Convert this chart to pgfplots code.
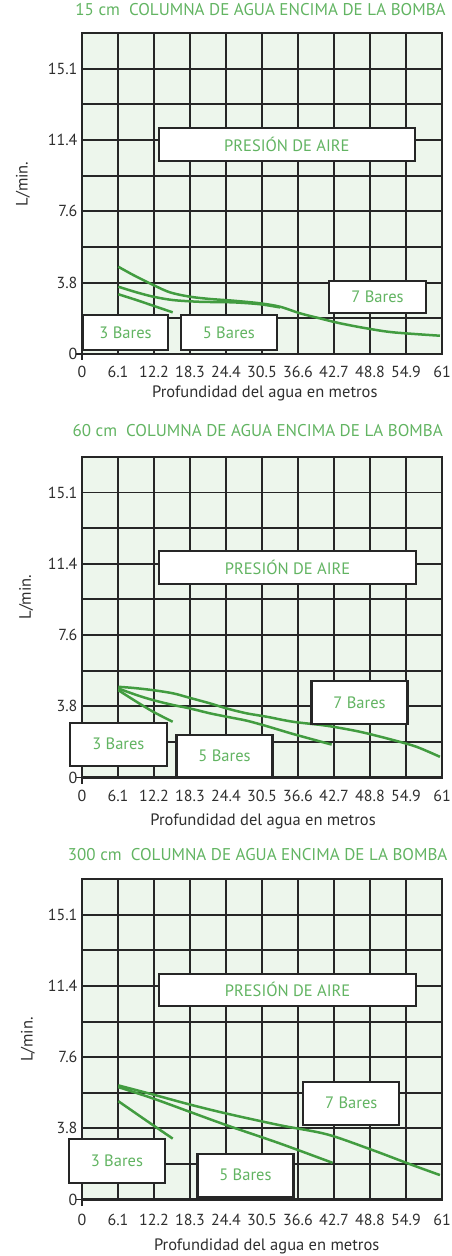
\documentclass[border=0pt]{standalone}
\usepackage{fontspec}
\setmainfont{PT Sans}
\usepackage{pgfplots}
\pgfplotsset{compat=1.18}
\definecolor{bg}{HTML}{EDF6EC}
\definecolor{gridc}{HTML}{262626}
\definecolor{lgreen}{HTML}{429C40}
\definecolor{tgreen}{HTML}{62B462}
\definecolor{tickc}{HTML}{2E2E2E}
\tikzset{
 lb/.style={draw=gridc, line width=2.2pt, fill=white, text=tgreen, inner sep=0pt,
   font=\fontsize{16.5}{19}\selectfont},
 cv/.style={draw=lgreen, line width=2.5pt, smooth, no marks},
}
\pgfplotsset{
 bomba/.style={
  scale only axis, width=360pt,
  xmin=0,xmax=60.96,ymin=0,ymax=17.03,
  axis background/.style={fill=bg},
  xtick={0,6.096,12.192,18.288,24.384,30.48,36.576,42.672,48.768,54.864,60.96},
  xticklabels={0,6.1,12.2,18.3,24.4,30.5,36.6,42.7,48.8,54.9,61},
  ytick={0,3.785,7.571,11.356,15.142},
  yticklabels={0,3.8,7.6,11.4,15.1},
  minor ytick={1.893,5.678,9.464,13.249},
  grid=both,
  major grid style={draw=gridc,line width=1.9pt},
  minor grid style={draw=gridc,line width=1.9pt},
  axis line style={draw=gridc,line width=2.2pt},
  tick style={draw=none},
  ticklabel style={font=\fontsize{16}{19}\selectfont, text=tickc},
  yticklabel style={xshift=-1pt},
  xlabel=Profundidad del agua en metros,
  ylabel=L/min.,
  label style={font=\fontsize{16.5}{19}\selectfont, text=tickc},
  title style={font=\fontsize{17}{20}\selectfont, text=tgreen, anchor=center},
  clip=false,
 },
 origindash/.style={},
}
\newcommand{\origin}{%
  \draw[gridc, line width=1.6pt] (rel axis cs:0,0) -- ++(-6pt,0pt);
  \draw[gridc, line width=1.6pt] (rel axis cs:0,0) -- ++(0pt,-6pt);}
\begin{document}
\begin{tikzpicture}
\useasboundingbox (0pt,0pt) rectangle (452pt,-1256pt);
% ---------- Chart 1 ----------
\begin{axis}[bomba, at={(82pt,-354pt)}, anchor=south west, height=321pt,
  title={15 cm\ \ COLUMNA DE AGUA ENCIMA DE LA BOMBA},
  title style={at={(axis description cs:0.496,1.053)}},
  xlabel style={at={(axis description cs:0.508,-0.1215)}, anchor=center},
  ylabel style={at={(axis description cs:-0.164,0.53)}, anchor=center},
  xticklabel style={anchor=center, yshift=-17.7pt}]
\addplot[cv] coordinates {(6.15,4.63) (8.69,4.19) (12.07,3.66) (14.90,3.27) (18.28,3.04) (21.67,2.92) (25.56,2.83) (30.14,2.69) (33.52,2.51) (36.91,2.16) (40.29,1.89) (43.68,1.63) (48.20,1.36) (52.70,1.15) (60.61,0.97)};
\addplot[cv] coordinates {(6.15,3.57) (9.26,3.27) (12.07,3.04) (15.46,2.86) (19.98,2.77) (25.56,2.74) (30.14,2.64) (33.52,2.47)};
\addplot[cv] coordinates {(6.15,3.17) (9.26,2.86) (12.07,2.56) (15.36,2.21)};
\origin
\node[lb, minimum width=256pt, minimum height=33pt] at (rel axis cs:0.569,0.653) {PRESIÓN DE AIRE};
\node[lb, minimum width=85pt, minimum height=35pt] at (rel axis cs:0.121,0.067) {3 Bares};
\node[lb, minimum width=96pt, minimum height=35pt] at (rel axis cs:0.408,0.067) {5 Bares};
\node[lb, minimum width=97pt, minimum height=32pt] at (rel axis cs:0.821,0.178) {7 Bares};
\end{axis}
% ---------- Chart 2 ----------
\begin{axis}[bomba, at={(82pt,-777.5pt)}, anchor=south west, height=320.5pt,
  title={60 cm\ \ COLUMNA DE AGUA ENCIMA DE LA BOMBA},
  title style={at={(axis description cs:0.488,1.065)}},
  xlabel style={at={(axis description cs:0.503,-0.136)}, anchor=center},
  ylabel style={at={(axis description cs:-0.155,0.563)}, anchor=center},
  xticklabel style={anchor=center, yshift=-18.5pt}]
\addplot[cv] coordinates {(6.15,4.82) (8.69,4.76) (12.07,4.64) (15.46,4.47) (18.28,4.23) (21.67,3.94) (24.50,3.67) (27.88,3.41) (31.27,3.23) (35.77,2.96) (41.43,2.75) (47.07,2.43) (52.70,1.99) (56.66,1.63) (60.61,1.10)};
\addplot[cv] coordinates {(6.15,4.73) (9.26,4.38) (12.07,4.11) (15.46,3.85) (18.28,3.67) (21.67,3.41) (24.50,3.23) (27.88,3.02) (31.27,2.73) (35.77,2.31) (42.27,1.75)};
\addplot[cv] coordinates {(6.15,4.64) (9.26,4.02) (12.07,3.49) (15.36,2.96)};
\origin
\node[lb, minimum width=257pt, minimum height=33pt] at (rel axis cs:0.571,0.655) {PRESIÓN DE AIRE};
\node[lb, minimum width=97pt, minimum height=43pt] at (rel axis cs:0.101,0.104) {3 Bares};
\node[lb, minimum width=96pt, minimum height=42pt] at (rel axis cs:0.396,0.067) {5 Bares};
\node[lb, minimum width=96pt, minimum height=43pt] at (rel axis cs:0.771,0.234) {7 Bares};
\end{axis}
% ---------- Chart 3 ----------
\begin{axis}[bomba, at={(82pt,-1199.5pt)}, anchor=south west, height=320.2pt,
  title={300 cm\ \ COLUMNA DE AGUA ENCIMA DE LA BOMBA},
  title style={at={(axis description cs:0.488,1.060)}},
  xlabel style={at={(axis description cs:0.513,-0.147)}, anchor=center},
  ylabel style={at={(axis description cs:-0.15,0.50)}, anchor=center},
  xticklabel style={anchor=center, yshift=-20.5pt}]
\addplot[cv] coordinates {(6.15,6.07) (12.07,5.58) (18.28,5.05) (24.50,4.57) (33.52,3.95) (41.43,3.47) (48.76,2.68) (55.53,1.88) (60.61,1.30)};
\addplot[cv] coordinates {(6.15,5.98) (12.07,5.37) (18.28,4.66) (24.50,3.95) (33.52,2.98) (42.44,1.95)};
\addplot[cv] coordinates {(6.15,5.23) (10.75,4.23) (15.36,3.24)};
\origin
\node[lb, minimum width=257pt, minimum height=32pt] at (rel axis cs:0.571,0.655) {PRESIÓN DE AIRE};
\node[lb, minimum width=96pt, minimum height=44pt] at (rel axis cs:0.097,0.121) {3 Bares};
\node[lb, minimum width=96pt, minimum height=43pt] at (rel axis cs:0.454,0.076) {5 Bares};
\node[lb, minimum width=96pt, minimum height=43pt] at (rel axis cs:0.748,0.301) {7 Bares};
\end{axis}
\end{tikzpicture}
\end{document}
